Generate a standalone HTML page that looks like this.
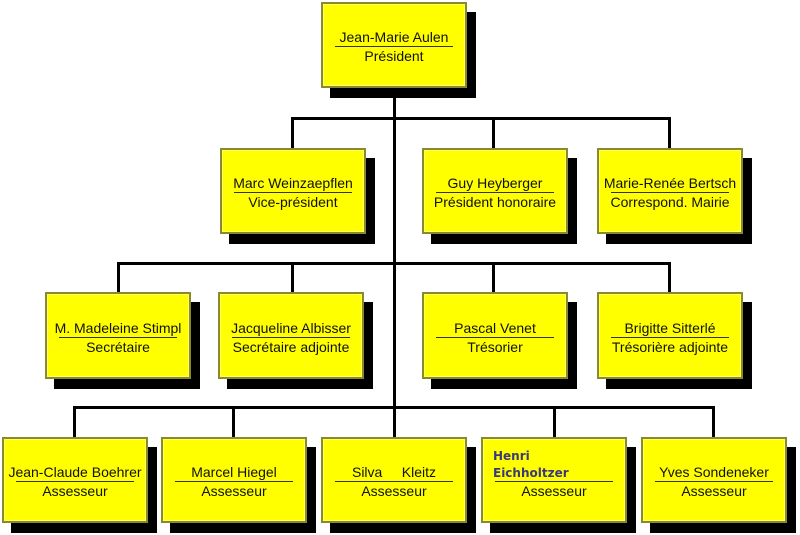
<!DOCTYPE html>
<html><head><meta charset="utf-8"><style>
body{margin:0;width:800px;height:535px;background:#fff;position:relative;overflow:hidden;font-family:"Liberation Sans",Arial,sans-serif}
.l{position:absolute;background:#000}
.s{position:absolute;background:#000}
.b{position:absolute;background:#ffff00;border:2px solid #8a8a2a;box-sizing:border-box;box-shadow:inset 0 0 0 1px #ffff66}
.t{position:absolute;left:0;right:0;text-align:center;font-size:14px;color:#111;line-height:16px;white-space:nowrap}
.u{position:absolute;height:1px;background:#333}
</style></head><body>
<div class="l" style="left:393px;top:86px;width:3px;height:352px"></div>
<div class="l" style="left:291px;top:117px;width:380px;height:3px"></div>
<div class="l" style="left:291px;top:117px;width:3px;height:32px"></div>
<div class="l" style="left:492px;top:117px;width:3px;height:32px"></div>
<div class="l" style="left:668px;top:117px;width:3px;height:32px"></div>
<div class="l" style="left:117px;top:262px;width:554px;height:3px"></div>
<div class="l" style="left:117px;top:262px;width:3px;height:31px"></div>
<div class="l" style="left:291px;top:262px;width:3px;height:31px"></div>
<div class="l" style="left:492px;top:262px;width:3px;height:31px"></div>
<div class="l" style="left:668px;top:262px;width:3px;height:31px"></div>
<div class="l" style="left:73px;top:406px;width:642px;height:3px"></div>
<div class="l" style="left:73px;top:406px;width:3px;height:32px"></div>
<div class="l" style="left:232px;top:406px;width:3px;height:32px"></div>
<div class="l" style="left:553px;top:406px;width:3px;height:32px"></div>
<div class="l" style="left:712px;top:406px;width:3px;height:32px"></div>
<div id="c"></div>
<script>
var B=[
[321,2,146,86,"Jean-Marie Aulen","Président"],
[220,148,146,86,"Marc Weinzaepflen","Vice-président"],
[422,148,146,86,"Guy Heyberger","Président honoraire"],
[597,148,146,86,"Marie-Renée Bertsch","Correspond. Mairie"],
[45,292,146,87,"M. Madeleine Stimpl","Secrétaire"],
[218,292,146,87,"Jacqueline Albisser","Secrétaire adjointe"],
[422,292,146,87,"Pascal Venet","Trésorier"],
[597,292,146,87,"Brigitte Sitterlé","Trésorière adjointe"],
[2,437,146,86,"Jean-Claude Boehrer","Assesseur"],
[161,437,146,86,"Marcel Hiegel","Assesseur"],
[321,437,146,86,"Silva&nbsp;&nbsp;&nbsp;&nbsp;&nbsp;Kleitz","Assesseur"],
[481,437,146,86,"","Assesseur"],
[641,437,146,86,"Yves Sondeneker","Assesseur"]];
var h="";
B.forEach(function(a,i){
 var x=a[0],y=a[1],w=a[2],hh=a[3];
 h+='<div class="s" style="left:'+(x+9)+'px;top:'+(y+10)+'px;width:'+w+'px;height:'+hh+'px"></div>';
 h+='<div class="b" style="left:'+x+'px;top:'+y+'px;width:'+w+'px;height:'+hh+'px">';
 var cy=hh/2;
 if(i==11){
  h+='<div class="t" style="text-align:left;left:10px;top:'+(cy-34)+'px;color:#3a3a7a;font-weight:bold;font-family:\'DejaVu Sans\',sans-serif;font-size:12px;line-height:17px">Henri<br>Eichholtzer</div>';
 }else{
  h+='<div class="t" style="top:'+(cy-18)+'px">'+a[4]+'</div>';
 }
 h+='<div class="u" style="left:12px;right:12px;top:'+(cy-1)+'px"></div>';
 h+='<div class="t" style="top:'+(cy+1)+'px">'+a[5]+'</div>';
 h+='</div>';
});
document.getElementById("c").innerHTML=h;
</script>
</body></html>
